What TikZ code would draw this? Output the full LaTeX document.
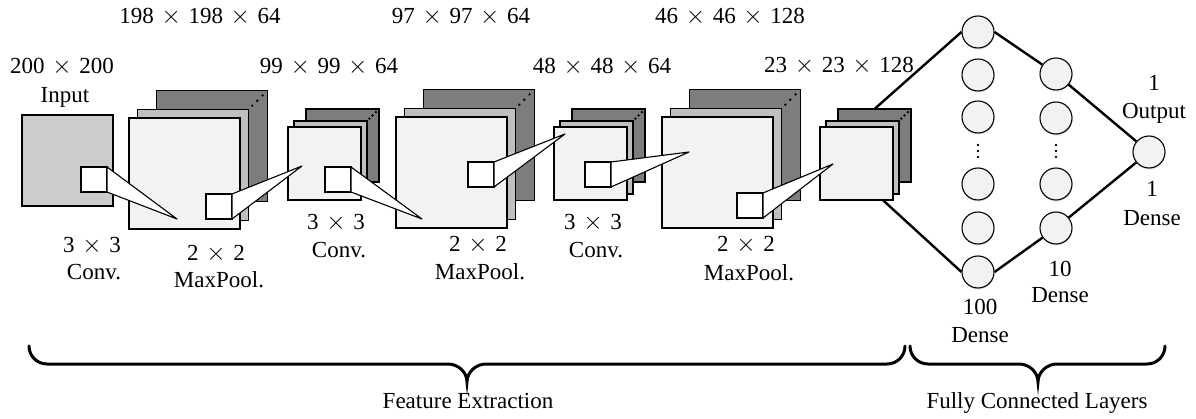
\documentclass[tikz,border=0pt]{standalone}
\usepackage{fontspec}
\setmainfont{Liberation Serif}
\usetikzlibrary{calc,shadows}

\definecolor{inputgray}{RGB}{204,204,204}
\definecolor{frontgray}{RGB}{242,242,242}
\definecolor{midgray}{RGB}{191,191,191}
\definecolor{backgray}{RGB}{125,125,125}

% dimension separator with wide spacing
\newcommand\tms{\hspace{0.33em}$\times$\hspace{0.33em}}

% a stack of three feature maps: name, front x, front y, size, mid offset, back offset
\newcommand\mapstack[6]{%
  \node[sheet, fill=backgray, minimum size=#4pt] (#1back) at (#2+#6, #3-#6) {};
  \node[sheet, fill=midgray,  minimum size=#4pt] (#1mid)  at (#2+#5, #3-#5) {};
  \node[sheet, fill=frontgray,minimum size=#4pt] (#1front) at (#2, #3) {};
  \foreach \f in {0.2,0.46,0.74}
    \fill ($(#1mid.north east)!\f!(#1back.north east)$) circle (1.3pt);
}

\begin{document}
\begin{tikzpicture}[x=1pt,y=-1pt,
  sheet/.style={draw=black, line width=1.1pt, inner sep=0pt, outer sep=0pt, anchor=north west},
  kernel/.style={sheet, fill=white, minimum width=26pt, minimum height=25pt},
  cone/.style={draw=black, fill=white, line width=1.1pt, line join=round},
  neuron/.style={circle, draw=black, line width=1.1pt, fill=frontgray, minimum size=32pt, inner sep=0pt,
    drop shadow={shadow xshift=0.6pt, shadow yshift=-1.6pt, opacity=0.22}},
  link/.style={draw=black, line width=2.4pt},
  brace/.style={draw=black, line width=3pt, line cap=round},
  lbl/.style={anchor=base, inner sep=0pt, font=\fontsize{23}{27}\selectfont},
]
\useasboundingbox (0,0) rectangle (1196,419);

% ---- input image
\node[sheet, fill=inputgray, minimum width=91pt, minimum height=91pt] (inp) at (22,115) {};

% ---- feature maps
\mapstack{lA}{129}{118}{111}{8.5}{27.5}
\mapstack{lB}{288}{127}{73}{6}{18}
\mapstack{lC}{396}{117}{111}{8.5}{27.5}
\mapstack{lD}{554}{127}{73}{6}{18}
\mapstack{lE}{662}{117}{111}{8.5}{27.5}
\mapstack{lF}{820}{127}{73}{6}{18}

% ---- receptive field kernels
\coordinate (tA) at (177,219);
\coordinate (tB) at (302,166);
\coordinate (tC) at (422,219);
\coordinate (tD) at (565,134);
\coordinate (tE) at (689,152);
\coordinate (tF) at (833,164);

\node[kernel] (k0) at (81,167) {};
\node[kernel] (kA) at (206,194) {};
\node[kernel] (kB) at (325,167) {};
\node[kernel] (kC) at (468,162) {};
\node[kernel] (kD) at (585,162) {};
\node[kernel] (kE) at (737,193) {};

\draw[cone] (k0.north east) -- (k0.south east) -- (tA) -- cycle;
\draw[cone] (kA.north east) -- (kA.south east) -- (tB) -- cycle;
\draw[cone] (kB.north east) -- (kB.south east) -- (tC) -- cycle;
\draw[cone] (kC.north east) -- (kC.south east) -- (tD) -- cycle;
\draw[cone] (kD.north east) -- (kD.south east) -- (tE) -- cycle;
\draw[cone] (kE.north east) -- (kE.south east) -- (tF) -- cycle;

% ---- dense layers
\node[neuron] (c1) at (978,32) {};
\node[neuron] (c2) at (978,75) {};
\node[neuron] (c3) at (978,117) {};
\node[neuron] (c4) at (978,184) {};
\node[neuron] (c5) at (978,228) {};
\node[neuron] (c6) at (978,272) {};
\node[neuron] (d1) at (1056,74) {};
\node[neuron] (d2) at (1056,118) {};
\node[neuron] (d3) at (1056,184) {};
\node[neuron] (d4) at (1056,228) {};
\node[neuron] (out) at (1149,152) {};

\foreach \yy in {145,151,157} {
  \fill (978,\yy) circle (1.3pt);
  \fill (1056,\yy) circle (1.3pt);
}

\coordinate (fb) at ($(lFfront.south west)!0.86!(lFfront.south east)$);
\draw[link] (lFback.north) -- (c1.west);
\draw[link] (c1.east) -- (d1);
\draw[link] (d1) -- (out);
\draw[link] (fb) -- (c6.west);
\draw[link] (c6.east) -- (d4);
\draw[link] (d4) -- (out);

% ---- labels above
\node[lbl] (s0) at (62,74) {200\tms200};
\node[lbl] (s0b) at (65,103) {Input};
\node[lbl] (sA) at (200,24) {198\tms198\tms64};
\node[lbl] (sB) at (329,74) {99\tms99\tms64};
\node[lbl] (sC) at (461,24) {97\tms97\tms64};
\node[lbl] (sD) at (602,74) {48\tms48\tms64};
\node[lbl] (sE) at (730,24) {46\tms46\tms128};
\node[lbl] (sF) at (839,73) {23\tms23\tms128};

% ---- operation labels
\node[lbl] (o1) at (92,253) {3\tms3};
\node[lbl] (o1b) at (94,280) {Conv.};
\node[lbl] (o2) at (216,261) {2\tms2};
\node[lbl] (o2b) at (219,288) {MaxPool.};
\node[lbl] (o3) at (336,230) {3\tms3};
\node[lbl] (o3b) at (339,258) {Conv.};
\node[lbl] (o4) at (478,252) {2\tms2};
\node[lbl] (o4b) at (480,280) {MaxPool.};
\node[lbl] (o5) at (593,230) {3\tms3};
\node[lbl] (o5b) at (596,258) {Conv.};
\node[lbl] (o6) at (746,252) {2\tms2};
\node[lbl] (o6b) at (749,281) {MaxPool.};

% ---- dense labels
\node[lbl] (n1) at (1154,91) {1};
\node[lbl] (n1b) at (1154,119) {Output};
\node[lbl] (n2) at (1152,197) {1};
\node[lbl] (n2b) at (1152,226) {Dense};
\node[lbl] (n3) at (1060,277) {10};
\node[lbl] (n3b) at (1060,303) {Dense};
\node[lbl] (n4) at (980,315) {100};
\node[lbl] (n4b) at (980,343) {Dense};

% ---- braces
\draw[brace] (29,346) .. controls (29,356) and (37,364) .. (47,364)
  -- (448,364) .. controls (458,364) and (467,372) .. (467,382)
  .. controls (467,372) and (476,364) .. (486,364)
  -- (887,364) .. controls (897,364) and (905,356) .. (905,346);
\draw[brace] (910,346) .. controls (910,356) and (918,364) .. (928,364)
  -- (1019,364) .. controls (1029,364) and (1038,372) .. (1038,382)
  .. controls (1038,372) and (1047,364) .. (1057,364)
  -- (1147,364) .. controls (1157,364) and (1165,356) .. (1165,346);

\node[lbl] (fe) at (468,408) {Feature Extraction};
\node[lbl] (fc) at (1037,408) {Fully Connected Layers};
\end{tikzpicture}
\end{document}
